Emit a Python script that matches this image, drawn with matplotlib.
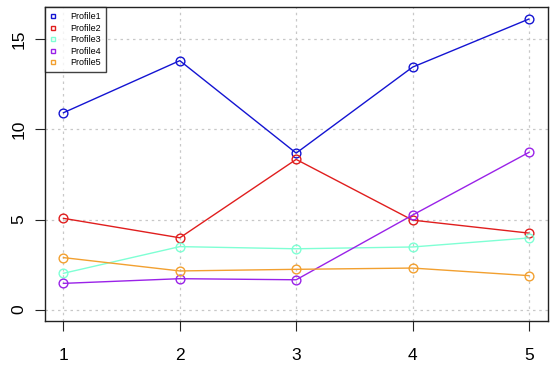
import matplotlib
matplotlib.use("Agg")
import matplotlib.pyplot as plt
from matplotlib.lines import Line2D

plt.rcParams['font.family'] = ['Liberation Sans', 'DejaVu Sans']

x = [1, 2, 3, 4, 5]
series_names = ["Profile1", "Profile2", "Profile3", "Profile4", "Profile5"]
profile1 = [10.93, 13.82, 8.69, 13.46, 16.13]
profile2 = [5.07, 3.99, 8.34, 4.97, 4.25]
profile3 = [2.02, 3.50, 3.38, 3.48, 3.98]
profile4 = [1.46, 1.72, 1.66, 5.25, 8.73]
profile5 = [2.89, 2.15, 2.24, 2.31, 1.89]
colors = ['#1414D2', '#E01E1E', '#7FFFD4', '#9A22E8', '#F2A030']

data = [profile1, profile2, profile3, profile4, profile5]

fig = plt.figure(figsize=(5.5, 3.65), dpi=100)
ax = fig.add_axes([0.0815, 0.1197, 0.914, 0.860])

for ys, c in zip(data, colors):
    ax.plot(x, ys, color=c, linewidth=1.0, marker='o', markersize=6.3,
            markerfacecolor='none', markeredgecolor=c, markeredgewidth=1.0)

ax.set_xlim(0.84, 5.16)
ax.set_ylim(-0.645, 16.775)
ax.set_xticks([1, 2, 3, 4, 5])
ax.set_yticks([0, 5, 10, 15])
ax.grid(True, color='#c8c8c8', linestyle=(0, (2, 3)), linewidth=0.9)
ax.set_axisbelow(True)

for s in ax.spines.values():
    s.set_linewidth(1.0)
    s.set_color('#222222')

ax.tick_params(axis='both', length=7, width=0.8, labelsize=12.5, color='#222222')
ax.tick_params(axis='x', pad=12)
ax.tick_params(axis='y', pad=6)
for lab in ax.get_yticklabels():
    lab.set_rotation(90)
    lab.set_va('center')

handles = [Line2D([], [], linestyle='none', marker='s', markersize=3.2,
                  markerfacecolor='none', markeredgecolor=c, markeredgewidth=1.0)
           for c in colors]
leg = ax.legend(handles, series_names, loc='upper left', fontsize=6.5,
                frameon=True, fancybox=False, borderaxespad=0,
                handlelength=0.8, handletextpad=1.5, labelspacing=0.27,
                borderpad=0.55, edgecolor='#111111')
leg.get_frame().set_linewidth(1.0)

fig.savefig("out.png", dpi=100)
